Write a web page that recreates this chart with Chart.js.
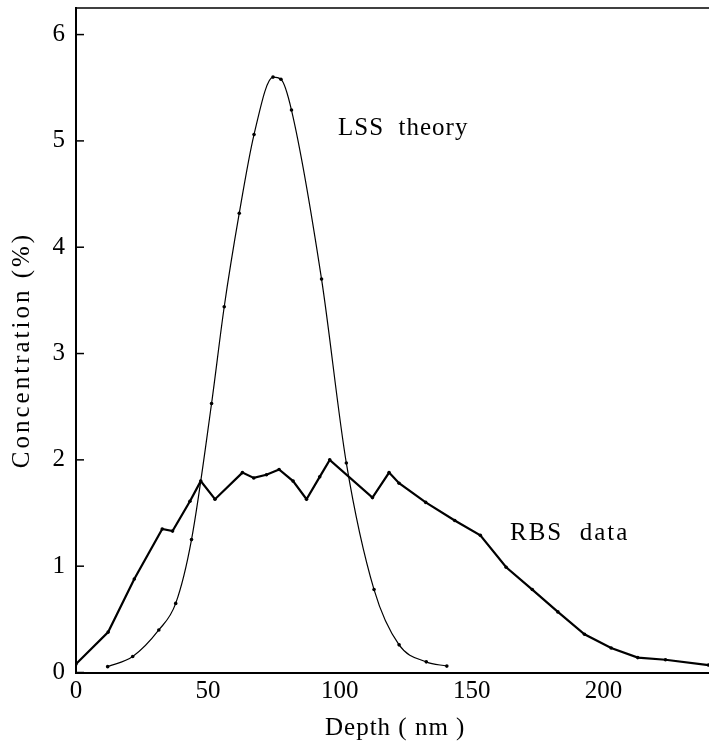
<!DOCTYPE html>
<html lang="en">
<head>
<meta charset="UTF-8">
<title>Concentration vs depth</title>
<script src="https://cdn.jsdelivr.net/npm/chart.js@4.4.0/dist/chart.umd.min.js"></script>
<style>
  html, body { margin: 0; padding: 0; background: #fff; }
  canvas { display: block; }
</style>
</head>
<body>
<canvas id="depthChart" width="709" height="754"></canvas>
<script>
// values (depth in nm, concentration in %)
var rbsDepth = [0, 12.2, 22.1, 32.7, 36.6, 43.2, 47.3, 52.7, 63.1, 67.4, 72.2, 77.0, 82.3, 87.4, 92.4, 96.2,
                112.4, 118.7, 122.5, 132.6, 143.6, 153.3, 163.1, 173.0, 182.7, 192.8, 202.9, 213.0, 223.5, 239.8];
var rbsConc  = [0.08, 0.38, 0.88, 1.35, 1.33, 1.61, 1.80, 1.63, 1.88, 1.83, 1.86, 1.91, 1.80, 1.63, 1.84, 2.00,
                1.645, 1.88, 1.78, 1.60, 1.43, 1.29, 0.99, 0.78, 0.57, 0.36, 0.23, 0.14, 0.12, 0.07];

var lssDepth = [12.0, 21.5, 31.4, 37.8, 43.8, 51.4, 56.2, 61.9, 67.5, 74.7, 77.7, 81.7, 93.1, 102.5, 113.0, 122.5, 132.8, 140.6];
var lssConc  = [0.055, 0.15, 0.40, 0.65, 1.25, 2.53, 3.44, 4.32, 5.06, 5.60, 5.58, 5.29, 3.70, 1.97, 0.78, 0.26, 0.10, 0.06];

var xTicks = [0, 50, 100, 150, 200];
var yTicks = [0, 1, 2, 3, 4, 5, 6];

var serif = "'Liberation Serif', 'DejaVu Serif', serif";

function toPoints(xs, ys) {
    return xs.map(function (x, i) { return { x: x, y: ys[i] }; });
}

// top frame line, inner ticks on the y axis and the text labels
var frame = {
    id: 'frame',
    afterDraw: function (chart) {
        var ctx = chart.ctx, a = chart.chartArea, ys = chart.scales.y;
        ctx.save();
        ctx.strokeStyle = '#000';
        ctx.lineWidth = 1.5;
        ctx.beginPath();
        ctx.moveTo(a.left, a.top);
        ctx.lineTo(a.right, a.top);
        ctx.stroke();
        yTicks.forEach(function (v) {
            var py = ys.getPixelForValue(v);
            ctx.beginPath();
            ctx.moveTo(a.left, py);
            ctx.lineTo(a.left + 8, py);
            ctx.stroke();
        });

        ctx.fillStyle = '#000';
        ctx.font = '25px ' + serif;
        ctx.letterSpacing = '1px';
        ctx.textBaseline = 'alphabetic';
        ctx.fillText('LSS  theory', 338, 135);
        ctx.fillText('Depth ( nm )', 325, 735);
        ctx.letterSpacing = '2px';
        ctx.fillText('RBS  data', 510, 540);

        ctx.translate(22, 350);
        ctx.rotate(-Math.PI / 2);
        ctx.textAlign = 'center';
        ctx.textBaseline = 'middle';
        ctx.letterSpacing = '3px';
        ctx.fillText('Concentration (%)', 0, 0);
        ctx.restore();
    }
};

var tickFont = { family: serif, size: 25 };

new Chart(document.getElementById('depthChart'), {
    type: 'line',
    data: {
        datasets: [{
            label: 'LSS theory',
            data: toPoints(lssDepth, lssConc),
            borderColor: '#000',
            backgroundColor: '#000',
            borderWidth: 1.2,
            pointRadius: 1.8,
            pointBorderWidth: 0,
            cubicInterpolationMode: 'monotone'
        }, {
            label: 'RBS data',
            data: toPoints(rbsDepth, rbsConc),
            borderColor: '#000',
            backgroundColor: '#000',
            borderWidth: 2.2,
            pointRadius: 1.8,
            pointBorderWidth: 0,
            tension: 0
        }]
    },
    options: {
        responsive: false,
        animation: false,
        layout: { autoPadding: false, padding: { top: 8, right: 0, left: 0, bottom: 0 } },
        plugins: { legend: { display: false }, tooltip: { enabled: false } },
        scales: {
            x: {
                type: 'linear',
                min: 0,
                max: 240,
                afterFit: function (s) { s.height = 81.5; s.paddingLeft = 0; s.paddingRight = 0; },
                afterBuildTicks: function (s) { s.ticks = xTicks.map(function (v) { return { value: v }; }); },
                grid: { display: false, drawTicks: false },
                border: { display: true, color: '#000', width: 2 },
                ticks: { autoSkip: false, maxRotation: 0, padding: 4, color: '#000', font: tickFont }
            },
            y: {
                min: 0,
                max: 6.25,
                afterFit: function (s) { s.width = 76; s.paddingTop = 0; s.paddingBottom = 0; },
                afterBuildTicks: function (s) { s.ticks = yTicks.map(function (v) { return { value: v }; }); },
                grid: { display: false, drawTicks: false },
                border: { display: true, color: '#000', width: 2 },
                ticks: { autoSkip: false, padding: 11, color: '#000', font: tickFont }
            }
        }
    },
    plugins: [frame]
});
</script>
</body>
</html>
